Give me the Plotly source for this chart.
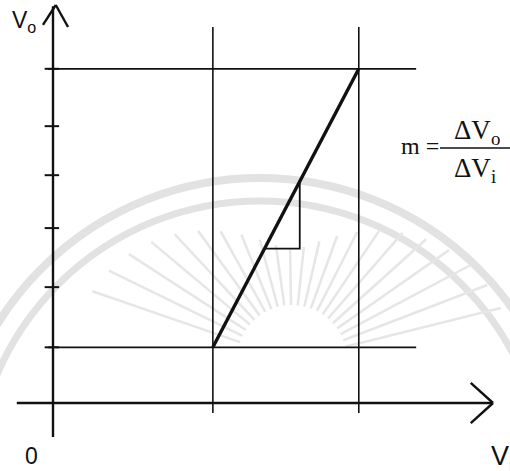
import numpy as np
import plotly.graph_objects as go

# Transfer characteristic of a linear stage: Vo rises from its lower to its
# upper limit while Vi sweeps between two input levels.
vi_levels = [2.87, 5.49]          # input levels where the output starts / saturates
vo_levels = [1.0, 6.0]            # lower and upper output levels
vo_ticks = [2.08, 3.14, 4.09, 4.97]  # intermediate tick marks on the Vo axis
slope_run = [3.80, 4.43]          # horizontal leg of the slope triangle (Vi)
slope_rise = [2.77, 3.98]         # vertical leg of the slope triangle (Vo)

INK = "#111111"
WM = "#e2e2e2"

fig = go.Figure()

# ---- faint background emblem -------------------------------------------
S = 55.7  # px per unit (both axes share the same scale)
def px(xp, yp):
    return (xp - 53) / S, (403 - yp) / S

for r_px, w in [(309, 8), (286, 7)]:
    cx, cy = px(260, 487)
    r = r_px / S
    fig.add_shape(type="circle", xref="x", yref="y",
                  x0=cx - r, x1=cx + r, y0=cy - r, y1=cy + r,
                  line=dict(color=WM, width=w), layer="below")

sx, sy = px(292, 360)
for ang in np.arange(14, 167, 7):
    a = np.radians(ang)
    r_in = 55 / S
    r_out = (110 + 110 * abs(np.cos(a)) ** 1.5) / S
    fig.add_shape(type="line", xref="x", yref="y",
                  x0=sx + r_in * np.cos(a), y0=sy + r_in * np.sin(a),
                  x1=sx + r_out * np.cos(a), y1=sy + r_out * np.sin(a),
                  line=dict(color="#e6e6e6", width=2.5), layer="below")

# ---- axes --------------------------------------------------------------
x_min, x_tip = -0.65, 7.90
y_min, y_tip = -0.61, 7.145

def seg(x0, y0, x1, y1, w, color=INK):
    fig.add_shape(type="line", xref="x", yref="y", x0=x0, y0=y0, x1=x1, y1=y1,
                  line=dict(color=color, width=w))

seg(x_min, 0, x_tip, 0, 2.4)
seg(0, y_min, 0, y_tip - 0.02, 2.4)
# arrowheads
seg(7.50, 0.36, x_tip, 0, 2.4)
seg(7.50, -0.36, x_tip, 0, 2.4)
seg(0.05, y_tip, -0.18, 6.79, 2.4)
seg(0.05, y_tip, 0.27, 6.75, 2.4)

# Vo tick marks
for t in [vo_levels[0]] + vo_ticks + [vo_levels[1]]:
    seg(-0.15, t, 0.11, t, 2)

# guide lines at the limit levels
for v in vo_levels:
    seg(-0.09, v, 6.52, v, 1.8)
for v in vi_levels:
    seg(v, -0.18, v, 6.75, 1.6)

# transfer line
fig.add_trace(go.Scatter(x=vi_levels, y=vo_levels, mode="lines",
                         line=dict(color=INK, width=3.4), hoverinfo="skip",
                         showlegend=False))

# slope triangle
fig.add_trace(go.Scatter(x=[slope_run[0], slope_run[1], slope_run[1]],
                         y=[slope_rise[0], slope_rise[0], slope_rise[1]],
                         mode="lines", line=dict(color=INK, width=1.8),
                         hoverinfo="skip", showlegend=False))

# ---- labels ------------------------------------------------------------
sans = "Liberation Sans, Arial, sans-serif"
serif = "Liberation Serif, Times New Roman, serif"

def label(xp, yp, text, size, family, xanchor="center"):
    x, y = px(xp, yp)
    fig.add_annotation(x=x, y=y, xref="x", yref="y", text=text, showarrow=False,
                       font=dict(size=size, family=family, color=INK),
                       xanchor=xanchor, yanchor="middle")

label(10, 21, "V<sub>o</sub>", 23, sans, "left")
label(31, 456, "0", 23, sans)
label(489, 458, "V<sub>i</sub>", 27, sans, "left")

label(399, 146, "m =", 24, serif, "left")
label(452, 132, "ΔV<sub>o</sub>", 27, serif, "left")
label(452, 170, "ΔV<sub>i</sub>", 27, serif, "left")
bx0, by = px(440, 148)
bx1, _ = px(512, 148)
seg(bx0, by, bx1, by, 1.4)

x0r, _ = px(0, 0)
x1r, _ = px(510, 0)
_, y0r = px(0, 471)
_, y1r = px(0, 0)

fig.update_layout(
    width=510, height=471,
    margin=dict(l=0, r=0, t=0, b=0),
    paper_bgcolor="white", plot_bgcolor="white",
    xaxis=dict(range=[x0r, x1r], visible=False, fixedrange=True),
    yaxis=dict(range=[y0r, y1r], visible=False, fixedrange=True),
    showlegend=False,
)

fig.write_html("out.html")
